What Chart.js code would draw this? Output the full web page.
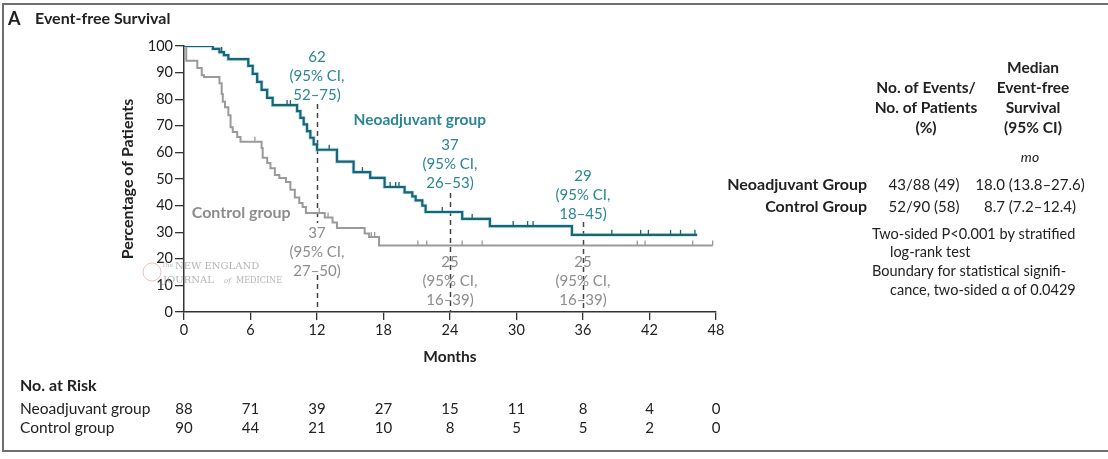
<!DOCTYPE html>
<html>
<head>
<meta charset="utf-8">
<script src="https://cdn.jsdelivr.net/npm/chart.js@4.4.1/dist/chart.umd.min.js"></script>
<style>
  html, body { margin: 0; padding: 0; background: #fff; }
  #wrap { position: relative; width: 1108px; height: 459px; }
  #frame { position: absolute; left: 2px; top: 3px; width: 1110px; height: 445px; border: 2px solid #6f6f6f; border-right: none; pointer-events: none; }
</style>
</head>
<body>
<div id="wrap">
  <canvas id="km"></canvas>
  <div id="frame"></div>
</div>
<script>
const monthTicks = [0, 6, 12, 18, 24, 30, 36, 42, 48];
const pctTicks = [0, 10, 20, 30, 40, 50, 60, 70, 80, 90, 100];

// neoadjuvant curve (month where the step starts, % event-free)
const neoMonths = [0, 2.6, 3.2, 3.6, 4.0, 5.8, 6.2, 6.6, 7.0, 7.5, 8.0, 10.2, 10.5, 10.8, 11.1, 11.4, 11.7, 12.0, 13.8, 15.3, 16.8, 18.1, 19.9, 20.6, 20.9, 21.5, 21.8, 25.1, 27.6, 35.0, 46.3];
const neoSurv   = [100, 98.9, 97.7, 96.6, 95.1, 92.5, 89.5, 86.5, 83.5, 80.5, 77.8, 75.5, 73, 70.5, 68, 65.5, 63, 61, 56.5, 52.6, 50.4, 47, 45, 43.5, 42, 40, 37.6, 35, 32.3, 29, 29];
const neoCensorMonths = [2.1, 2.3, 2.5, 3.4, 9.3, 9.6, 13.1, 16.1, 18.6, 19.1, 19.4, 23.3, 26.0, 29.7, 31.0, 31.5, 38.6, 41.2, 41.9, 43.9, 44.8, 46.1];
const neoCensorSurv   = [100, 100, 100, 97.7, 77.8, 77.8, 61, 52.6, 47, 47, 47, 37.6, 35, 32.3, 32.3, 32.3, 29, 29, 29, 29, 29, 29];

// control curve
const ctrlMonths = [0, 0.2, 1.2, 1.6, 1.8, 3.2, 3.4, 3.5, 3.7, 4.0, 4.2, 4.4, 4.8, 5.1, 7.0, 7.1, 7.5, 7.8, 8.2, 8.6, 9.2, 9.6, 10.0, 10.4, 10.7, 11.0, 12.7, 13.4, 13.8, 16.3, 16.7, 17.6, 47.7];
const ctrlSurv   = [100, 94.5, 91.7, 89, 88.3, 86, 82, 79, 77, 74, 69.5, 67.7, 65.8, 64, 61.7, 58, 56, 54, 51.5, 50.4, 48.9, 46, 43, 41, 39.5, 37.2, 35.5, 33.6, 31.6, 29.5, 28.2, 25, 25];
const ctrlCensorMonths = [6.4, 12.2, 13.0, 16.9, 17.2, 21.1, 21.9, 25.1, 26.9, 40.9, 41.6, 45.9, 47.7];
const ctrlCensorSurv   = [64, 37.2, 35.5, 28.2, 28.2, 25, 25, 25, 25, 25, 25, 25, 25];

const atRiskNeo  = [88, 71, 39, 27, 15, 11, 8, 4, 0];
const atRiskCtrl = [90, 44, 21, 10, 8, 5, 5, 2, 0];

const landmarkMonths = [12, 24, 36];
const neoLandmark  = ['62', '37', '29'];
const neoLandmarkCI  = ['52–75', '26–53', '18–45'];
const ctrlLandmark = ['37', '25', '25'];
const ctrlLandmarkCI = ['27–50', '16–39', '16–39'];

const FONT = 'Lato, "Open Sans", sans-serif';
const TEAL = '#1d6372';
const TEAL_TXT = '#2b8594';
const GRAY = '#9a9a9a';
const GRAY_TXT = '#8d8d8d';
const INK = '#222';

function pts(xs, ys) { return xs.map((m, i) => ({ x: m, y: ys[i] })); }

function txt(ctx, s, x, y, size, opts = {}) {
    ctx.font = (opts.style || '') + ' ' + (opts.weight || 'normal') + ' ' + size + 'px ' + FONT;
    ctx.fillStyle = opts.color || INK;
    ctx.textAlign = opts.align || 'left';
    ctx.textBaseline = 'middle';
    ctx.fillText(s, x, y);
}

// dashed landmark lines, behind the curves
const landmarkLines = {
    id: 'landmarkLines',
    beforeDatasetsDraw(chart) {
        const { ctx, scales: { x, y } } = chart;
        const tops = [78.2, 44.7, 33.8];
        ctx.save();
        ctx.strokeStyle = '#444';
        ctx.lineWidth = 1.5;
        ctx.setLineDash([5, 4]);
        landmarkMonths.forEach((m, i) => {
            const px = Math.round(x.getPixelForValue(m)) + 0.5;
            ctx.beginPath();
            ctx.moveTo(px, y.getPixelForValue(tops[i]));
            ctx.lineTo(px, y.getPixelForValue(0));
            ctx.stroke();
        });
        ctx.restore();
    }
};

const annotate = {
    id: 'annotate',
    afterDraw(chart) {
        const { ctx, scales: { x, y } } = chart;
        ctx.save();

        // title
        txt(ctx, 'A', 8, 19, 18, { weight: 'bold' });
        txt(ctx, 'Event-free Survival', 35, 19, 16, { weight: 'bold' });

        // landmark labels
        const neoTop = [95.9, 62.8, 51.1];
        const ctrlTop = [29.7, 18.8, 18.8];
        landmarkMonths.forEach((m, i) => {
            const px = x.getPixelForValue(m);
            let py = y.getPixelForValue(neoTop[i]);
            [neoLandmark[i], '(95% CI,', neoLandmarkCI[i] + ')'].forEach((s, k) =>
                txt(ctx, s, px, py + k * 19, 15, { color: TEAL_TXT, align: 'center' }));
            py = y.getPixelForValue(ctrlTop[i]);
            if (i === 0) {
                ctx.fillStyle = '#fff';
                ctx.fillRect(px - 6, py - 10, 12, 50);
            }
            [ctrlLandmark[i], '(95% CI,', ctrlLandmarkCI[i] + ')'].forEach((s, k) =>
                txt(ctx, s, px, py + k * 19, 15, { color: GRAY_TXT, align: 'center' }));
        });

        // group labels
        txt(ctx, 'Neoadjuvant group', x.getPixelForValue(15.3), y.getPixelForValue(72.2), 15.5, { weight: 'bold', color: TEAL_TXT });
        txt(ctx, 'Control group', x.getPixelForValue(0.7), y.getPixelForValue(37.2), 16, { weight: 'bold', color: GRAY_TXT });

        // watermark
        ctx.strokeStyle = 'rgba(215,120,110,0.45)';
        ctx.lineWidth = 1;
        ctx.beginPath(); ctx.arc(152, 272, 9, 0, Math.PI * 2); ctx.stroke();
        ctx.fillStyle = 'rgba(150,150,150,0.7)';
        ctx.textAlign = 'left';
        ctx.textBaseline = 'alphabetic';
        ctx.font = '6px "DejaVu Serif", serif';
        ctx.fillText('The', 162, 267, 11);
        ctx.font = '10px "DejaVu Serif", serif';
        ctx.fillText('NEW ENGLAND', 175, 269, 86);
        ctx.fillText('JOURNAL', 163, 283, 56);
        ctx.fillText('MEDICINE', 236, 283, 46);
        ctx.font = 'italic 7px "DejaVu Serif", serif';
        ctx.fillText('of', 224, 283);

        // right-hand summary
        ['No. of Events/', 'No. of Patients', '(%)'].forEach((s, k) =>
            txt(ctx, s, 926, 88 + k * 20, 15.5, { weight: 'bold', align: 'center' }));
        ['Median', 'Event-free', 'Survival', '(95% CI)'].forEach((s, k) =>
            txt(ctx, s, 1033, 68 + k * 20, 15.5, { weight: 'bold', align: 'center' }));
        txt(ctx, 'mo', 1030, 157, 14, { style: 'italic', align: 'center' });
        txt(ctx, 'Neoadjuvant Group', 867, 185, 16, { weight: 'bold', align: 'right' });
        txt(ctx, '43/88 (49)', 924, 185, 15, { align: 'center' });
        txt(ctx, '18.0 (13.8–27.6)', 1030, 185, 15, { align: 'center' });
        txt(ctx, 'Control Group', 867, 207, 16, { weight: 'bold', align: 'right' });
        txt(ctx, '52/90 (58)', 924, 207, 15, { align: 'center' });
        txt(ctx, '8.7 (7.2–12.4)', 1030, 207, 15, { align: 'center' });
        txt(ctx, 'Two-sided P<0.001 by stratified', 872, 234, 14.5);
        txt(ctx, 'log-rank test', 890, 252, 14.5);
        txt(ctx, 'Boundary for statistical signifi-', 872, 271, 14.5);
        txt(ctx, 'cance, two-sided α of 0.0429', 890, 290, 14.5);

        // number at risk
        txt(ctx, 'No. at Risk', 20, 386, 16, { weight: 'bold' });
        txt(ctx, 'Neoadjuvant group', 20, 409, 15.5);
        txt(ctx, 'Control group', 20, 428, 15.5);
        monthTicks.forEach((m, i) => {
            const px = x.getPixelForValue(m);
            txt(ctx, String(atRiskNeo[i]), px, 409, 15, { align: 'center' });
            txt(ctx, String(atRiskCtrl[i]), px, 428, 15, { align: 'center' });
        });

        ctx.restore();
    }
};

const censorStyle = { showLine: false, pointStyle: 'dash', rotation: -90, pointRadius: 5, pointHoverRadius: 5, borderWidth: 1.3 };

new Chart(document.getElementById('km'), {
    type: 'line',
    data: {
        datasets: [
            { ...censorStyle, data: pts(neoCensorMonths, neoCensorSurv), borderColor: TEAL, backgroundColor: TEAL },
            { ...censorStyle, data: pts(ctrlCensorMonths, ctrlCensorSurv), borderColor: GRAY, backgroundColor: GRAY },
            { data: pts(neoMonths, neoSurv), stepped: true, borderColor: TEAL, borderWidth: 2.2, pointRadius: 0 },
            { data: pts(neoMonths, neoSurv), stepped: true, borderColor: 'rgba(120,210,236,0.5)', borderWidth: 3.8, pointRadius: 0 },
            { data: pts(ctrlMonths, ctrlSurv), stepped: true, borderColor: GRAY, borderWidth: 2, pointRadius: 0 }
        ]
    },
    options: {
        responsive: true,
        maintainAspectRatio: false,
        animation: false,
        events: [],
        layout: { padding: { left: 100, right: 392, top: 46, bottom: 93 }, autoPadding: false },
        plugins: { legend: { display: false }, tooltip: { enabled: false } },
        scales: {
            x: {
                type: 'linear', min: 0, max: 48,
                afterBuildTicks: s => { s.ticks = monthTicks.map(v => ({ value: v })); },
                afterFit: s => { s.height = 54; },
                grid: { drawOnChartArea: false, tickLength: 8, color: '#333', lineWidth: 1.3 },
                border: { color: '#333', width: 1.5 },
                ticks: { color: INK, font: { family: FONT, size: 14.5 }, padding: 2, maxRotation: 0 },
                title: { display: true, text: 'Months', color: INK, font: { family: FONT, size: 15.5, weight: 'bold' }, padding: 0 }
            },
            y: {
                type: 'linear', min: 0, max: 100,
                afterBuildTicks: s => { s.ticks = pctTicks.map(v => ({ value: v })); },
                afterFit: s => { s.width = 84; },
                grid: { drawOnChartArea: false, tickLength: 9, color: '#333', lineWidth: 1.3 },
                border: { color: '#333', width: 1.5 },
                ticks: { color: INK, font: { family: FONT, size: 14.5 }, padding: 2 },
                title: { display: true, text: 'Percentage of Patients', color: INK, font: { family: FONT, size: 16, weight: 'bold' }, padding: { top: 18, bottom: 0 } }
            }
        }
    },
    plugins: [landmarkLines, annotate]
});
</script>
</body>
</html>
